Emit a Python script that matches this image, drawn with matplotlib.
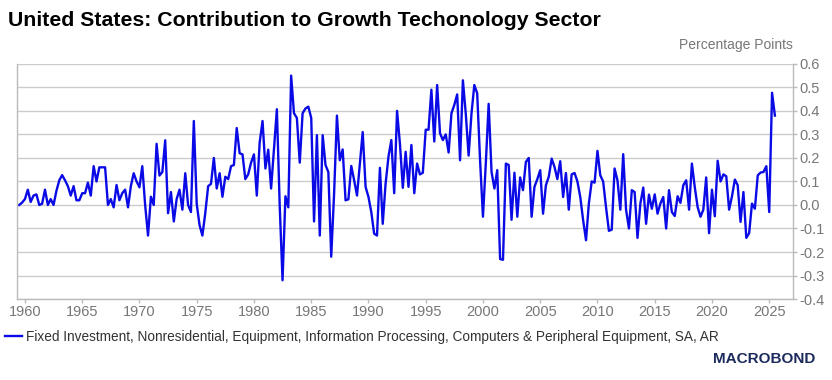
import pandas as pd
import matplotlib
matplotlib.use('Agg')
import matplotlib.pyplot as plt
import matplotlib.dates as mdates

# quarterly contribution to growth, percentage points, 1959Q2 - 2025Q2
start_quarter = '1959-06-30'
values = [
    0.0, 0.01, 0.025, 0.065, 0.013, 0.04, 0.045, 0.0, 0.005, 0.065,
    0.0, 0.025, 0.0, 0.06, 0.105, 0.127, 0.105, 0.08, 0.04, 0.08,
    0.02, 0.02, 0.05, 0.05, 0.095, 0.04, 0.165, 0.1, 0.16, 0.16,
    0.16, 0.0, 0.025, -0.01, 0.085, 0.02, 0.05, 0.065, -0.01, 0.08,
    0.135, 0.1, 0.075, 0.165, 0.0, -0.13, 0.035, 0.0, 0.26, 0.125,
    0.14, 0.275, -0.035, 0.055, -0.07, 0.025, 0.065, -0.02, 0.135, 0.0,
    -0.03, 0.357, 0.005, -0.085, -0.13, -0.035, 0.08, 0.09, 0.2, 0.07,
    0.135, 0.035, 0.12, 0.11, 0.165, 0.17, 0.327, 0.22, 0.215, 0.11,
    0.13, 0.18, 0.215, 0.04, 0.265, 0.357, 0.155, 0.235, 0.07, 0.24,
    0.407, 0.0, -0.32, 0.037, -0.01, 0.55, 0.39, 0.37, 0.18, 0.39,
    0.41, 0.418, 0.37, -0.07, 0.297, -0.13, 0.297, 0.17, 0.14, -0.22,
    0.05, 0.38, 0.19, 0.236, 0.02, 0.024, 0.166, 0.105, 0.04, 0.176,
    0.31, 0.077, 0.034, -0.03, -0.122, -0.13, 0.158, -0.08, 0.09, 0.205,
    0.276, 0.05, 0.4, 0.26, 0.073, 0.226, 0.077, 0.255, 0.05, 0.176,
    0.13, 0.137, 0.32, 0.32, 0.49, 0.27, 0.51, 0.305, 0.276, 0.3,
    0.223, 0.39, 0.425, 0.47, 0.19, 0.53, 0.39, 0.21, 0.39, 0.51,
    0.475, 0.19, -0.05, 0.176, 0.43, 0.14, 0.07, 0.148, -0.23, -0.233,
    0.176, 0.17, -0.063, 0.137, -0.05, 0.117, 0.063, 0.183, 0.2, -0.05,
    0.077, 0.11, 0.148, -0.037, 0.084, 0.12, 0.197, 0.162, 0.11, 0.186,
    0.034, 0.136, -0.02, 0.13, 0.136, 0.1, 0.034, -0.065, -0.15, 0.006,
    0.1, 0.095, 0.23, 0.126, 0.1, -0.01, -0.11, -0.105, 0.155, 0.105,
    -0.02, 0.216, -0.02, -0.1, 0.063, 0.055, -0.14, 0.006, 0.074, -0.08,
    0.044, -0.016, 0.045, -0.037, 0.006, 0.034, -0.1, 0.063, -0.03, -0.047,
    0.037, 0.009, 0.084, 0.105, -0.02, 0.176, 0.077, -0.009, -0.05, -0.02,
    0.117, -0.12, 0.065, -0.048, 0.188, 0.1, 0.13, 0.122, -0.02, 0.037,
    0.108, 0.084, -0.072, 0.055, -0.14, -0.12, 0.006, -0.016, 0.126, 0.138,
    0.14, 0.165, -0.03, 0.477, 0.38,
]
dates = pd.date_range(start_quarter, periods=len(values), freq='QE')

title = 'United States: Contribution to Growth Techonology Sector'
unit = 'Percentage Points'
series_name = ('Fixed Investment, Nonresidential, Equipment, Information Processing, '
               'Computers & Peripheral Equipment, SA, AR')
y_ticks = [-0.4, -0.3, -0.2, -0.1, 0.0, 0.1, 0.2, 0.3, 0.4, 0.5, 0.6]

plt.rcParams['font.family'] = ['Liberation Sans', 'DejaVu Sans']
grey = '#777777'

fig = plt.figure(figsize=(8.32, 3.8), dpi=100)
ax = fig.add_axes([0.020, 0.213, 0.933, 0.619])

ax.plot(dates, values, color='#0a0ae6', linewidth=1.7, label=series_name)

ax.set_ylim(-0.4, 0.6)
ax.set_xlim(pd.Timestamp('1959-04-10'), pd.Timestamp('2027-01-25'))
ax.set_yticks(y_ticks)
ax.set_yticklabels([f'{t:.1f}' for t in y_ticks])
ax.yaxis.tick_right()
ax.xaxis.set_major_locator(mdates.YearLocator(5))
ax.xaxis.set_major_formatter(mdates.DateFormatter('%Y'))

ax.grid(axis='y', color='#cccccc', linewidth=1.0)
ax.set_axisbelow(True)
ax.spines['top'].set_visible(False)
for side in ['left', 'right', 'bottom']:
    ax.spines[side].set_color('#bbbbbb')
    ax.spines[side].set_linewidth(1.0)
ax.tick_params(axis='both', colors='#bbbbbb', labelcolor=grey, labelsize=10.5,
               length=3, width=1)
ax.tick_params(axis='y', pad=2)
ax.tick_params(axis='x', pad=1.5)

fig.text(0.010, 0.945, title, fontsize=15.3, fontweight='bold', color='black',
         va='center', ha='left')
fig.text(0.953, 0.882, unit, fontsize=10, color=grey, va='center', ha='right')

# legend
fig.legend(loc='lower left', bbox_to_anchor=(0.0, 0.08), frameon=False,
           fontsize=9.8, handlelength=1.2, handletextpad=0.3, borderaxespad=0.0,
           labelcolor='#333333')

fig.text(0.98, 0.055, 'MACROBOND', fontsize=11, color='#1b2a5c', ha='right',
         va='center', fontweight='bold')

fig.savefig('out.png', dpi=100)
